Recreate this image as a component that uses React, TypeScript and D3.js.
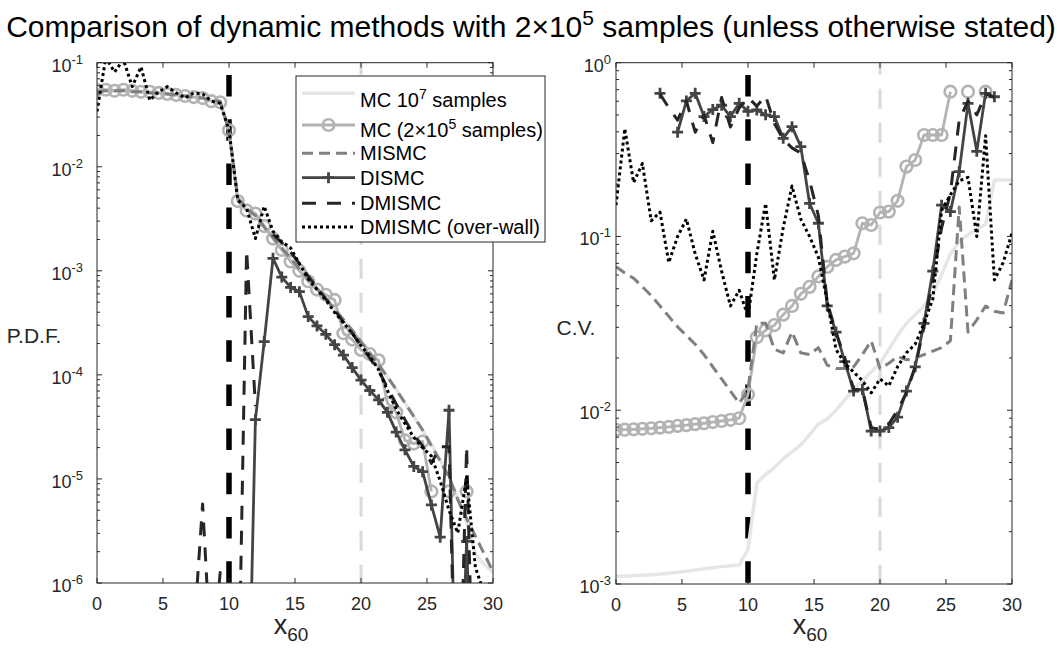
import React from "react";
import * as d3 from "d3";

const FONT = '"Liberation Sans", Arial, Helvetica, sans-serif';

// x grid (x_60)
const X = [0, 0.667, 1.333, 2, 2.667, 3.333, 4, 4.667, 5.333, 6, 6.667, 7.333, 8, 8.667, 9.333,
  10, 10.667, 11.333, 12, 12.667, 13.333, 14, 14.667, 15.333, 16, 16.667, 17.333, 18, 18.667, 19.333,
  20, 20.667, 21.333, 22, 22.667, 23.333, 24, 24.667, 25.333, 26, 26.667, 27.333, 28, 28.667, 29.333, 30];

// ---- Left panel: P.D.F. (log10 values) ----
const pdfMC1e7 = [-1.28, -1.27, -1.27, -1.27, -1.28, -1.28, -1.29, -1.29, -1.30, -1.31, -1.32, -1.33, -1.34, -1.36, -1.37,
  -1.66, -2.31, -2.40, -2.47, -2.58, -2.68, -2.78, -2.88, -2.98, -3.07, -3.17, -3.27, -3.37, -3.47, -3.57,
  -3.68, -3.79, -3.90, -4.02, -4.14, -4.27, -4.40, -4.53, -4.67, -4.82, -4.98, -5.18, -5.42, -5.72, -5.82, -5.90];
const pdfMC2e5 = [-1.26, -1.26, -1.27, -1.26, -1.27, -1.28, -1.28, -1.29, -1.30, -1.31, -1.32, -1.33, -1.34, -1.37, -1.38,
  -1.65, -2.33, -2.42, -2.45, -2.57, -2.69, -2.80, -2.91, -3.00, -3.10, -3.18, -3.23, -3.28, -3.60, -3.66,
  -3.76, -3.80, -3.86, -4.27, -4.36, -4.63, -4.66, -4.64, -5.12, null, -5.12, null, -5.12, null, null, null];
const pdfMISMC = [-1.28, -1.27, -1.27, -1.27, -1.28, -1.28, -1.29, -1.29, -1.30, -1.31, -1.32, -1.33, -1.34, -1.36, -1.37,
  -1.65, -2.30, -2.40, -2.47, -2.58, -2.68, -2.78, -2.88, -2.98, -3.07, -3.17, -3.27, -3.37, -3.47, -3.57,
  -3.68, -3.79, -3.90, -4.02, -4.14, -4.27, -4.40, -4.53, -4.68, -4.83, -4.98, -5.20, -5.38, -5.55, -5.72, -5.89];
const pdfDISMC = [null, null, null, null, null, null, null, null, null, null, null, null, null, null, null,
  null, null, -8.2, -4.43, -3.68, -2.88, -3.06, -3.16, -3.20, -3.44, -3.53, -3.61, -3.71, -3.81, -3.93,
  -4.05, -4.15, -4.24, -4.36, -4.55, -4.72, -4.88, -4.93, -5.25, -5.56, -4.34, -8.0, -5.6, -8.0, null, null];
const pdfDMISMC = [null, null, null, null, null, null, null, null, null, null, null, -6.5, -5.24, -6.8, -5.9,
  -7.0, -7.5, -2.8, -4.3, null, -2.65, -2.73, -2.82, -2.93, -3.05, -3.16, -3.27, -3.38, -3.49, -3.60,
  -3.72, -3.84, -3.96, -4.12, -4.28, -4.43, -4.58, -4.68, -4.85, -4.69, -4.69, -8.0, -4.69, -8.0, null, null];
const pdfOverWall = [-1.47, -0.95, -1.09, -0.97, -1.23, -1.04, -1.36, -1.28, -1.23, -1.29, -1.34, -1.29, -1.30, -1.37, -1.39,
  -1.65, -2.32, -2.40, -2.69, -2.38, -2.62, -2.72, -2.78, -2.93, -3.08, -3.18, -3.28, -3.40, -3.50, -3.60,
  -3.72, -3.82, -3.95, -4.15, -4.33, -4.47, -4.60, -4.70, -4.78, -5.02, -5.30, -5.52, -4.98, -5.85, -6.1, -6.3];

// ---- Right panel: C.V. (log10 values) ----
const cvMC1e7 = [-2.955, -2.955, -2.953, -2.95, -2.947, -2.943, -2.938, -2.933, -2.927, -2.92, -2.913, -2.906, -2.90, -2.895, -2.89,
  -2.80, -2.42, -2.37, -2.33, -2.28, -2.24, -2.20, -2.14, -2.08, -2.05, -2.00, -1.94, -1.88, -1.83, -1.78,
  -1.73, -1.65, -1.57, -1.50, -1.45, -1.40, -1.33, -1.22, -1.10, -1.03, -0.99, -0.96, -0.93, -0.675, -0.675, -0.675];
const cvMC2e5 = [-2.113, -2.112, -2.11, -2.107, -2.104, -2.10, -2.096, -2.09, -2.086, -2.08, -2.075, -2.068, -2.062, -2.055, -2.046,
  -1.91, -1.58, -1.54, -1.51, -1.45, -1.40, -1.33, -1.29, -1.23, -1.175, -1.135, -1.116, -1.097, -0.924, -0.934,
  -0.862, -0.857, -0.795, -0.598, -0.56, -0.416, -0.416, -0.416, -0.167, null, -0.167, null, -0.167, null, null, null];
const cvMISMC = [-1.174, -1.21, -1.24, -1.29, -1.34, -1.40, -1.46, -1.52, -1.57, -1.62, -1.68, -1.75, -1.82, -1.89, -1.96,
  -1.88, -1.50, -1.50, -1.65, -1.67, -1.55, -1.67, -1.68, -1.64, -1.74, -1.76, -1.76, -1.75, -1.68, -1.60,
  -1.76, -1.73, -1.69, -1.71, -1.70, -1.68, -1.66, -1.64, -1.60, -0.83, -1.55, -1.48, -1.40, -1.43, -1.44, -1.25];
const cvDISMC = [null, null, null, null, null, -0.176, null, -0.40, -0.22, -0.176, -0.31, -0.27, -0.245, -0.31, -0.234,
  -0.28, -0.272, -0.30, -0.31, -0.435, -0.368, -0.483, -0.81, -0.924, -1.40, -1.55, -1.72, -1.89, -1.88, -2.12,
  -2.12, -2.10, -2.04, -1.89, -1.75, -1.50, -1.20, -0.82, -0.857, -0.627, -0.234, -0.51, -0.176, -0.196, null, null];
const cvDMISMC = [null, null, null, null, null, -0.18, -0.26, -0.33, -0.22, -0.40, -0.30, -0.46, -0.20, -0.37, -0.26,
  -0.20, -0.25, -0.19, -0.35, -0.44, -0.49, -0.52, -0.68, -0.88, -1.38, -1.55, -1.70, -1.88, -1.88, -2.10,
  -2.11, -2.08, -2.00, -1.90, -1.75, -1.52, -1.25, -0.95, -0.75, -0.33, -0.22, -0.30, -0.18, -0.20, null, null];
const cvOverWall = [-0.82, -0.38, -0.69, -0.58, -0.91, -0.86, -1.15, -1.00, -0.90, -1.10, -1.25, -0.97, -1.20, -1.40, -1.31,
  -1.46, -1.10, -0.81, -1.25, -0.95, -0.71, -0.90, -1.00, -1.12, -1.37, -1.65, -1.73, -1.78, -1.83, -1.90,
  -1.82, -1.86, -1.75, -1.67, -1.62, -1.50, -1.36, -0.85, -0.76, -0.68, -0.66, -1.0, -0.42, -1.25, -1.15, -0.98];

const X_TICKS = [0, 5, 10, 15, 20, 25, 30];
const PDF_EXPS = [-6, -5, -4, -3, -2, -1];
const CV_EXPS = [-3, -2, -1, 0];
const WALL_X = 10;
const TARGET_X = 20;

type Style = { color: string; width: number; dash?: string; marker?: "o" | "+" };
const STYLES: Style[] = [
  { color: "#e6e6e6", width: 3.5 },
  { color: "#b3b3b3", width: 2.8, marker: "o" },
  { color: "#808080", width: 3, dash: "11,6" },
  { color: "#444444", width: 2.8, marker: "+" },
  { color: "#262626", width: 3, dash: "14,11" },
  { color: "#000000", width: 3, dash: "3,3" },
];
const LEGEND_NAMES: [string, string, string][] = [
  ["MC 10", "7", " samples"],
  ["MC (2\u00d710", "5", " samples)"],
  ["MISMC", "", ""],
  ["DISMC", "", ""],
  ["DMISMC", "", ""],
  ["DMISMC (over-wall)", "", ""],
];

type PanelProps = {
  id: string;
  left: number; right: number; top: number; bottom: number;
  expLo: number; expHi: number; exps: number[];
  series: (number | null)[][];
  ylabel: string; ylabelX: number; ylabelY: number;
  labelRight: number;
};

function Panel(p: PanelProps) {
  const xs = d3.scaleLinear().domain([0, 30]).range([p.left, p.right]);
  const ys = d3.scaleLog().domain([Math.pow(10, p.expLo), Math.pow(10, p.expHi)]).range([p.bottom, p.top]);
  const pts = (vals: (number | null)[]) => X.map((x, i) => [x, vals[i]] as [number, number | null]);
  const line = d3.line<[number, number | null]>()
    .defined((d) => d[1] !== null)
    .x((d) => xs(d[0]))
    .y((d) => ys(Math.pow(10, d[1] as number)));
  const minor: number[] = [];
  for (let e = p.expLo; e < p.expHi; e++) for (let m = 2; m <= 9; m++) minor.push(m * Math.pow(10, e));
  const axisColor = "#262626";
  const wallTopBlack = p.top + 12.3;
  return (
    <g>
      <defs>
        <clipPath id={p.id}>
          <rect x={p.left} y={p.top} width={p.right - p.left} height={p.bottom - p.top} />
        </clipPath>
      </defs>
      <g clipPath={`url(#${p.id})`}>
        <line x1={xs(TARGET_X)} x2={xs(TARGET_X)} y1={p.top} y2={p.bottom} stroke="#d9d9d9" strokeWidth={3} strokeDasharray="20,14" strokeDashoffset={8} />
        <line x1={xs(WALL_X)} x2={xs(WALL_X)} y1={wallTopBlack} y2={p.bottom} stroke="#000" strokeWidth={5.5} strokeDasharray="21.5,22.7" />
        {p.series.map((vals, si) => {
          const st = STYLES[si];
          const data = pts(vals);
          return (
            <g key={si}>
              <path d={line(data) || ""} fill="none" stroke={st.color} strokeWidth={st.width}
                strokeDasharray={st.dash} strokeLinejoin="round" />
              {st.marker === "o" && data.filter((d) => d[1] !== null).map((d, k) => (
                <circle key={k} cx={xs(d[0])} cy={ys(Math.pow(10, d[1] as number))} r={5.8} fill="none" stroke={st.color} strokeWidth={2.6} />
              ))}
              {st.marker === "+" && data.filter((d) => d[1] !== null).map((d, k) => {
                const cx = xs(d[0]), cy = ys(Math.pow(10, d[1] as number));
                return <path key={k} d={`M${cx - 5.5},${cy}H${cx + 5.5}M${cx},${cy - 5.5}V${cy + 5.5}`} stroke={st.color} strokeWidth={2.8} />;
              })}
            </g>
          );
        })}
      </g>
      {/* axes box */}
      <rect x={p.left} y={p.top} width={p.right - p.left} height={p.bottom - p.top} fill="none" stroke={axisColor} strokeWidth={1} />
      {X_TICKS.map((t) => (
        <g key={"xt" + t}>
          <line x1={xs(t)} x2={xs(t)} y1={p.bottom} y2={p.bottom - 5} stroke={axisColor} />
          <line x1={xs(t)} x2={xs(t)} y1={p.top} y2={p.top + 5} stroke={axisColor} />
          <text x={xs(t)} y={p.bottom + 27} textAnchor="middle" fontSize={18} fill="#262626">{t}</text>
        </g>
      ))}
      {p.exps.map((e) => {
        const y = ys(Math.pow(10, e));
        return (
          <g key={"yt" + e}>
            <line x1={p.left} x2={p.left + 5} y1={y} y2={y} stroke={axisColor} />
            <line x1={p.right} x2={p.right - 5} y1={y} y2={y} stroke={axisColor} />
            <text x={p.labelRight} y={y + 9} textAnchor="end" fontSize={18} fill="#262626">10<tspan dy={-8} fontSize={13}>{String(e)}</tspan></text>
          </g>
        );
      })}
      {minor.map((v, k) => {
        const y = ys(v);
        return (
          <g key={"mt" + k}>
            <line x1={p.left} x2={p.left + 3} y1={y} y2={y} stroke={axisColor} />
            <line x1={p.right} x2={p.right - 3} y1={y} y2={y} stroke={axisColor} />
          </g>
        );
      })}
      <text x={p.ylabelX} y={p.ylabelY} textAnchor="middle" fontSize={21} fill="#262626">{p.ylabel}</text>
      <text x={(p.left + p.right) / 2 - 4} y={634} textAnchor="middle" fontSize={27} fill="#262626">x<tspan dy={7} fontSize={19}>60</tspan></text>
    </g>
  );
}

function Legend() {
  const bx = 296, by = 76, bw = 249, bh = 166;
  const rows = [93.3, 125, 153.3, 177.7, 203.3, 227];
  const textOff = [14, 12, 7, 7, 7, 7];
  return (
    <g>
      <rect x={bx} y={by} width={bw} height={bh} fill="#fff" stroke="#262626" strokeWidth={1} />
      {rows.map((ry, i) => {
        const st = STYLES[i];
        const [a, sup, b] = LEGEND_NAMES[i];
        return (
          <g key={i}>
            <line x1={302} x2={355} y1={ry} y2={ry} stroke={st.color} strokeWidth={st.width} strokeDasharray={st.dash} />
            {st.marker === "o" && <circle cx={328.5} cy={ry} r={5.8} fill="none" stroke={st.color} strokeWidth={2.6} />}
            {st.marker === "+" && <path d={`M${323},${ry}H${334}M${328.5},${ry - 5.5}V${ry + 5.5}`} stroke={st.color} strokeWidth={2.8} />}
            <text x={360} y={ry + textOff[i]} fontSize={20} fill="#000">
              {a}
              {sup && <tspan dy={-8} fontSize={14}>{sup}</tspan>}
              {b && <tspan dy={8}>{b}</tspan>}
            </text>
          </g>
        );
      })}
    </g>
  );
}

export default function App() {
  return (
    <svg width={1059} height={656} style={{ position: "absolute", left: 0, top: 0, background: "#fff" }} fontFamily={FONT}>
      <rect width={1059} height={656} fill="#fff" />
      <text x={531} y={37} textAnchor="middle" fontSize={30} fill="#000">
        Comparison of dynamic methods with 2{"\u00d7"}10<tspan dy={-12} fontSize={21}>5</tspan>
        <tspan dy={12}> samples (unless otherwise stated)</tspan>
      </text>
      <Panel id="clipL" left={97} right={493} top={62.7} bottom={583} expLo={-6} expHi={-1} exps={PDF_EXPS}
        series={[pdfMC1e7, pdfMC2e5, pdfMISMC, pdfDISMC, pdfDMISMC, pdfOverWall]}
        ylabel="P.D.F." ylabelX={34} ylabelY={343} labelRight={83} />
      <Panel id="clipR" left={616} right={1012} top={62.7} bottom={584} expLo={-3} expHi={0} exps={CV_EXPS}
        series={[cvMC1e7, cvMC2e5, cvMISMC, cvDISMC, cvDMISMC, cvOverWall]}
        ylabel="C.V." ylabelX={576} ylabelY={335} labelRight={611} />
      <Legend />
    </svg>
  );
}
